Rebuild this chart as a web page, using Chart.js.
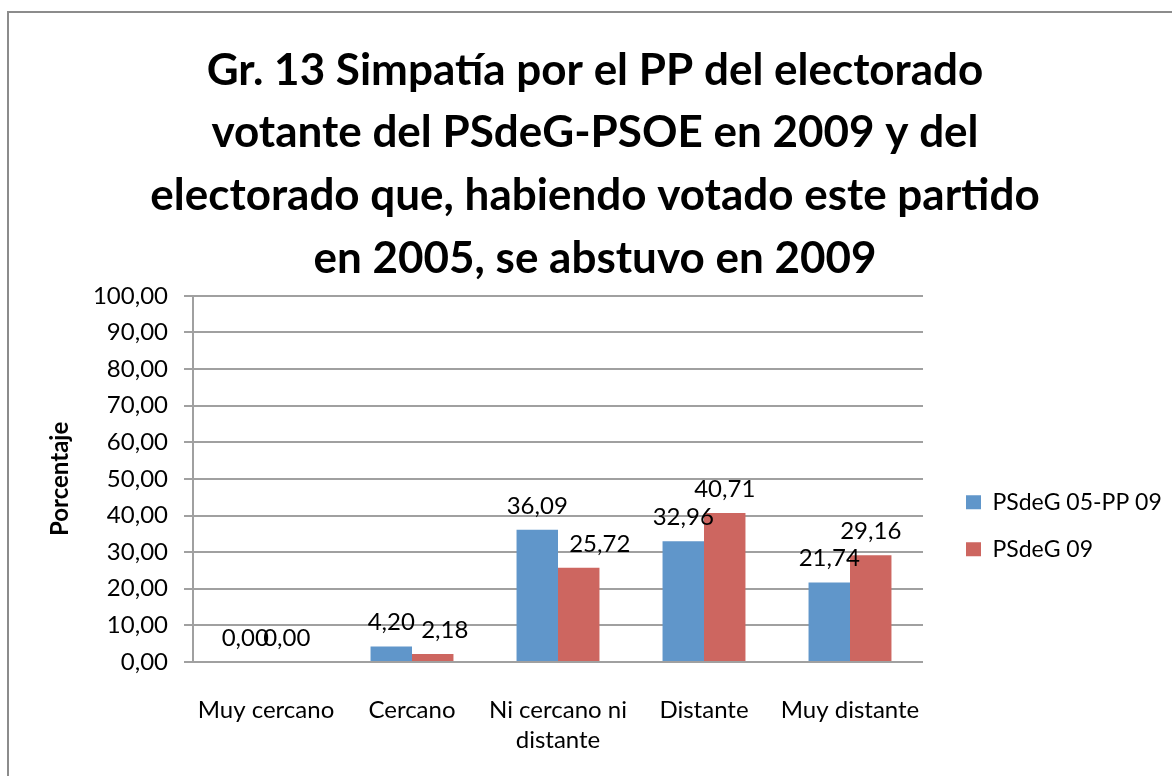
<!DOCTYPE html>
<html>
<head>
<meta charset="utf-8">
<script src="https://cdn.jsdelivr.net/npm/chart.js@4.4.0/dist/chart.umd.min.js"></script>
<style>
  html, body { margin: 0; padding: 0; background: #ffffff; overflow: hidden; width: 1172px; height: 776px; }
  #wrap { position: absolute; left: 7px; top: 11px; width: 1172px; height: 780px; border: 2px solid #8c8c8c; background: #fff; }
  canvas { display: block; }
</style>
</head>
<body>
<div id="wrap"><canvas id="c" width="1172" height="780"></canvas></div>
<script>
const titleLines = ['Gr. 13 Simpatía por el PP del electorado', 'votante del PSdeG-PSOE en 2009 y del', 'electorado que, habiendo votado este partido', 'en 2005, se abstuvo en 2009'];
const categories = ['Muy cercano', 'Cercano', ['Ni cercano ni', 'distante'], 'Distante', 'Muy distante'];
const seriesNames = ['PSdeG 05-PP 09', 'PSdeG 09'];
const valuesA = [0.00, 4.20, 36.09, 32.96, 21.74];
const valuesB = [0.00, 2.18, 25.72, 40.71, 29.16];
const yAxisTitle = 'Porcentaje';
const yMin = 0, yMax = 100, yStep = 10;

const FONT = 'Lato, "Open Sans", sans-serif';
const fmt = v => v.toFixed(2).replace('.', ',');

const LEGEND_WIDTH = 258;   // legend box width (chart area ends where legend starts)
const LEGEND_SHIFT = 19;    // extra gap between plot area and legend items

const legendBox = {
  id: 'legendBox',
  beforeLayout(chart) {
    const lg = chart.legend;
    if (!lg || lg._patched) return;
    lg._patched = true;
    const fit = lg.fit;
    lg.fit = function () { fit.call(this); this.width = LEGEND_WIDTH; };
    const draw = lg.draw;
    lg.draw = function () {
      this.left += LEGEND_SHIFT;
      draw.apply(this, arguments);
      this.left -= LEGEND_SHIFT;
    };
  }
};

// Small horizontal nudges mimicking the original's label collision avoidance
const labelNudge = { '1-1': 12, '1-2': 21 };

const dataLabels = {
  id: 'dataLabels',
  afterDatasetsDraw(chart) {
    const ctx = chart.ctx;
    ctx.save();
    ctx.font = '24px ' + FONT;
    ctx.fillStyle = '#000';
    ctx.textAlign = 'center';
    ctx.textBaseline = 'middle';
    chart.data.datasets.forEach((ds, di) => {
      const meta = chart.getDatasetMeta(di);
      meta.data.forEach((el, i) => {
        const dx = labelNudge[di + '-' + i] || 0;
        ctx.fillText(fmt(ds.data[i]), el.x + dx, el.y - 24);
      });
    });
    ctx.restore();
  }
};

new Chart(document.getElementById('c'), {
  type: 'bar',
  data: {
    labels: categories,
    datasets: [
      { label: seriesNames[0], data: valuesA, backgroundColor: '#6096CA', borderWidth: 0,
        categoryPercentage: 0.568, barPercentage: 1.0 },
      { label: seriesNames[1], data: valuesB, backgroundColor: '#CD6660', borderWidth: 0,
        categoryPercentage: 0.568, barPercentage: 1.0 }
    ]
  },
  options: {
    responsive: false,
    animation: false,
    devicePixelRatio: 1,
    layout: { padding: { left: 0, right: 0, top: 0, bottom: 5 } },
    plugins: {
      title: {
        display: true,
        text: titleLines,
        color: '#000',
        font: { family: FONT, size: 44, weight: 'bold', lineHeight: 1.425 },
        padding: { top: 26, bottom: 6 }
      },
      legend: {
        position: 'right',
        align: 'start',
        fullSize: false,
        title: { display: true, text: ' ', font: { size: 10, lineHeight: 1 }, padding: { top: 161, bottom: 0 } },
        labels: {
          boxWidth: 15, boxHeight: 14, padding: 24,
          color: '#000',
          font: { family: FONT, size: 23 }
        }
      },
      tooltip: { enabled: false }
    },
    scales: {
      x: {
        grid: { display: false, drawTicks: false },
        border: { display: false },
        ticks: { color: '#000', font: { family: FONT, size: 24, lineHeight: 1.25 }, padding: 33, maxRotation: 0, autoSkip: false }
      },
      y: {
        min: yMin, max: yMax,
        grid: { color: '#A0A0A0', lineWidth: 2, tickLength: 9, drawTicks: true },
        border: { display: true, color: '#A0A0A0', width: 2 },
        ticks: { stepSize: yStep, color: '#000', font: { family: FONT, size: 24 }, padding: 16, callback: v => fmt(v) },
        title: { display: true, text: yAxisTitle, color: '#000', font: { family: FONT, size: 24, weight: 'bold' }, padding: { top: 37, bottom: 0 } },
        afterFit: s => { s.width = 184; }
      }
    }
  },
  plugins: [legendBox, dataLabels]
});
</script>
</body>
</html>
